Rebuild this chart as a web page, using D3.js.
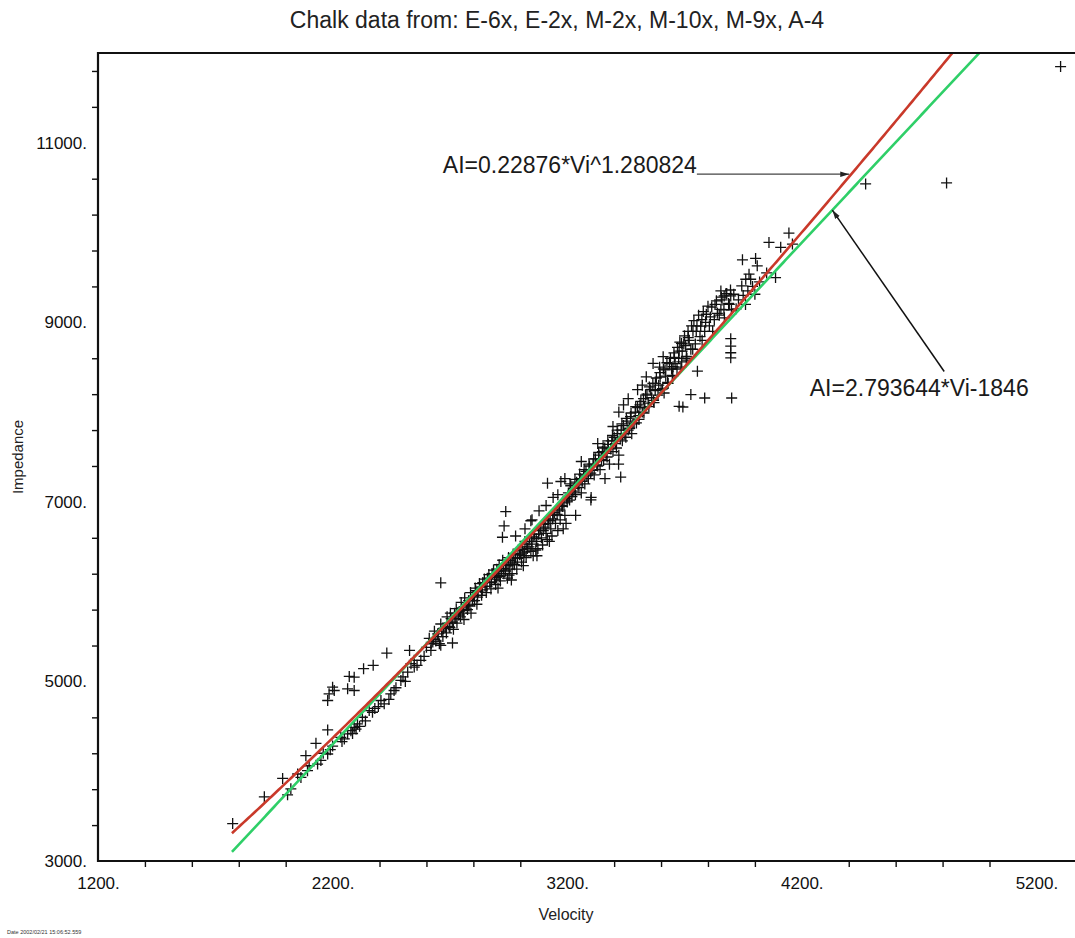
<!DOCTYPE html>
<html>
<head>
<meta charset="utf-8">
<title>Chalk data</title>
<script src="https://cdn.jsdelivr.net/npm/d3@7"></script>
<style>
  html, body { margin: 0; padding: 0; background: #fff; }
  svg { display: block; font-family: "Liberation Sans", Arial, Helvetica, sans-serif; }
</style>
</head>
<body>
<div id="chart"></div>
<script>
// Impedance vs velocity crossplot for chalk, with power and linear fits

// Axis ticks
const xMajor = [1200, 2200, 3200, 4200, 5200];
const yMajor = [3000, 5000, 7000, 9000, 11000];

// Fit coefficients (from the annotations)
const powerFit = { a: 0.22876, b: 1.280824 };
const linearFit = { slope: 2.793644, icept: -1846 };
const fitStartV = 1771;

// Samples [velocity, impedance]
const lowEnd = [
  [1774, 3417], [1909, 3715], [1987, 3920], [2008, 3737], [2022, 3804], [2051, 3969],
  [2065, 3931], [2086, 4173], [2093, 4006], [2100, 4061], [2129, 4311], [2136, 4080],
  [2150, 4120], [2160, 4200], [2179, 4192], [2179, 4460], [2190, 4240], [2200, 4280]
];

const upperOutliers = [
  [2179, 4788], [2185, 4862], [2207, 4899], [2200, 4936], [2264, 4918], [2271, 5056],
  [2292, 5048], [2292, 4899], [2332, 5142], [2373, 5179], [2431, 5316], [2528, 5346],
  [2661, 6098], [2924, 6606], [2931, 6732], [2938, 6892], [3116, 7209], [3173, 7227]
];

const rightOutliers = [
  [3301, 7022], [3428, 7276], [3693, 8057], [3727, 8195], [3786, 8157], [3901, 8157],
  [3897, 8818], [3897, 8735], [3897, 8661], [3897, 8605], [3755, 8456], [3677, 8065]
];

const farOutliers = [[4472, 10542], [4817, 10553], [5303, 11849]];

const bandLow = [
  [2235, 4378], [2264, 4416], [2278, 4452], [2292, 4489], [2306, 4527], [2327, 4601],
  [2356, 4676], [2370, 4657], [2406, 4788], [2420, 4751], [2448, 4862], [2462, 4899],
  [2491, 5011], [2520, 5104], [2534, 5198], [2548, 5160], [2576, 5235], [2240, 4330],
  [2250, 4360], [2285, 4420], [2300, 4470], [2315, 4500], [2340, 4560], [2380, 4700],
  [2395, 4720], [2440, 4800], [2470, 4930], [2500, 5050], [2510, 5000], [2548, 5235],
  [2560, 5180], [2590, 5280], [2600, 5380], [2619, 5346], [2661, 5402], [2711, 5428]
];

const bandMid = [
  [2620, 5420], [2630, 5470], [2640, 5450], [2650, 5500], [2655, 5420], [2665, 5560],
  [2670, 5500], [2680, 5600], [2685, 5540], [2690, 5650], [2700, 5600], [2705, 5700],
  [2710, 5660], [2715, 5580], [2720, 5760], [2725, 5700], [2730, 5650], [2740, 5780],
  [2745, 5720], [2750, 5820], [2755, 5760], [2760, 5690], [2770, 5850], [2775, 5800],
  [2780, 5900], [2785, 5840], [2790, 5760], [2800, 5950], [2805, 5900], [2810, 6010],
  [2815, 5860], [2820, 6000], [2830, 6050], [2835, 5960], [2840, 6100], [2850, 6060],
  [2855, 5990], [2860, 6150], [2870, 6100], [2875, 6030], [2880, 6200], [2890, 6140],
  [2895, 6080], [2900, 6250], [2905, 6180], [2910, 6300], [2915, 6120], [2920, 6240],
  [2925, 6350], [2930, 6200], [2940, 6300], [2945, 6150], [2950, 6380], [2952, 6184],
  [2955, 6250], [2960, 6330], [2965, 6200], [2970, 6420], [2975, 6300], [2980, 6380],
  [2985, 6250], [2990, 6460], [3000, 6420], [3005, 6330], [3010, 6500], [3015, 6400],
  [3020, 6560], [3025, 6380], [3030, 6480], [3040, 6600], [3045, 6450], [3050, 6530],
  [3055, 6400], [3060, 6640], [3066, 6464], [3070, 6560], [3075, 6480], [3080, 6680],
  [3090, 6600], [3095, 6520], [3100, 6750], [3110, 6650], [3115, 6580], [3120, 6800],
  [3130, 6700], [3135, 6620], [3140, 6850], [3150, 6760], [3160, 6680], [3165, 6900],
  [3170, 6800], [3180, 6950], [3190, 6850], [3195, 6760], [3200, 7000]
];

const bandMidExtra = [
  [2612, 5480], [2627, 5440], [2634, 5560], [2648, 5530], [2661, 5640], [2673, 5590],
  [2688, 5720], [2697, 5610], [2702, 5760], [2718, 5700], [2727, 5810], [2736, 5740],
  [2748, 5880], [2758, 5790], [2763, 5930], [2779, 5850], [2788, 5990], [2796, 5900],
  [2808, 6040], [2818, 5940], [2826, 6090], [2838, 6020], [2847, 6140], [2858, 6060],
  [2866, 6190], [2877, 6110], [2886, 6240], [2898, 6160], [2906, 6230], [2913, 6170],
  [2928, 6260], [2937, 6230], [2948, 6290], [2958, 6350], [2968, 6310], [2978, 6420],
  [2988, 6370], [2997, 6410], [3008, 6470], [3018, 6440], [3028, 6530], [3037, 6500],
  [3048, 6560], [3058, 6610], [3068, 6590], [3078, 6640], [3087, 6700], [3098, 6680],
  [3106, 6720], [3118, 6760], [3127, 6790], [3138, 6810], [3146, 6880], [3157, 6860],
  [3168, 6920], [3177, 6960], [3186, 6990], [3198, 7040], [3020, 6700], [3050, 6800],
  [3080, 6900], [3140, 7050], [3160, 7080]
];

const bandEdges = [
  [2905, 6040], [2962, 6130], [3013, 6290], [3071, 6400], [3124, 6560], [3183, 6700],
  [3236, 6850], [3302, 7050], [3361, 7260], [3419, 7420], [2980, 6620], [3045, 6790],
  [3110, 6960], [3190, 7260], [3260, 7450], [3330, 7650], [3395, 7840]
];

const bandHigh = [
  [3205, 7100], [3210, 7020], [3215, 7180], [3220, 7060], [3230, 7150], [3235, 7080],
  [3240, 7220], [3250, 7160], [3255, 7260], [3260, 7100], [3270, 7300], [3275, 7200],
  [3280, 7340], [3290, 7260], [3295, 7400], [3300, 7320], [3310, 7420], [3315, 7300],
  [3320, 7480], [3330, 7400], [3335, 7520], [3340, 7360], [3350, 7560], [3355, 7460],
  [3360, 7600], [3370, 7500], [3375, 7640], [3380, 7420], [3390, 7680], [3395, 7560],
  [3400, 7720], [3410, 7600], [3415, 7760], [3420, 7520], [3430, 7800], [3435, 7680],
  [3440, 7850], [3450, 7720], [3455, 7900], [3460, 7800], [3470, 7950], [3475, 7760],
  [3480, 7880], [3490, 8000], [3495, 7880], [3500, 8050], [3505, 7960], [3510, 8080],
  [3520, 8000], [3525, 8150], [3530, 8050], [3540, 8200], [3545, 8100], [3550, 8280],
  [3560, 8160], [3565, 8320], [3570, 8106], [3575, 8240], [3580, 8380], [3590, 8300],
  [3595, 8440], [3600, 8250], [3610, 8480], [3613, 8213], [3620, 8400], [3625, 8550],
  [3630, 8320], [3640, 8600], [3645, 8480], [3650, 8400], [3655, 8660], [3660, 8540],
  [3670, 8720], [3675, 8600], [3680, 8780], [3685, 8500], [3690, 8680], [3700, 8850],
  [3705, 8740], [3710, 8600], [3715, 8900], [3720, 8800], [3730, 8960], [3735, 8700],
  [3740, 9020], [3750, 8900], [3760, 9080], [3769, 8958], [3775, 8800], [3780, 9120],
  [3790, 9000], [3800, 9180], [3810, 9060], [3820, 8900], [3830, 9200], [3840, 9100],
  [3855, 9145], [3860, 9250], [3870, 9050], [3880, 9320], [3890, 9200], [3900, 9140]
];

const bandHighExtra = [
  [3204, 7060], [3212, 7200], [3224, 7120], [3233, 7250], [3246, 7190], [3253, 7310],
  [3264, 7230], [3272, 7360], [3284, 7290], [3293, 7420], [3306, 7350], [3313, 7480],
  [3326, 7410], [3334, 7550], [3346, 7470], [3353, 7610], [3366, 7540], [3373, 7680],
  [3386, 7590], [3393, 7740], [3406, 7650], [3413, 7800], [3426, 7700], [3433, 7870],
  [3446, 7760], [3452, 7930], [3466, 7820], [3472, 7990], [3485, 7870], [3492, 8060],
  [3506, 7920], [3514, 8120], [3527, 7990], [3534, 8190], [3548, 8060], [3556, 8250],
  [3568, 8130], [3576, 8320], [3587, 8190], [3596, 8390], [3606, 8260], [3617, 8470],
  [3628, 8330], [3636, 8540], [3648, 8410], [3657, 8610], [3668, 8480], [3677, 8680],
  [3688, 8560], [3697, 8760], [3708, 8620], [3716, 8830], [3727, 8700], [3736, 8900],
  [3746, 8760], [3753, 8960], [3766, 8840], [3774, 9030], [3786, 8900], [3793, 9090],
  [3806, 8960], [3816, 9170], [3827, 9030], [3836, 9240], [3848, 9080], [3857, 9280],
  [3868, 9140], [3877, 9320], [3888, 9210], [3896, 9360], [3537, 8393], [3566, 8542],
  [3609, 8617], [3687, 8766], [3651, 8505], [3708, 8580], [3594, 8500], [3520, 8300],
  [3500, 8250], [3460, 8150], [3420, 8000], [3440, 8080]
];

const topCluster = [
  [3910, 9313], [3920, 9150], [3930, 9250], [3944, 9406], [3947, 9696], [3950, 9300],
  [3960, 9200], [3961, 9480], [3970, 9350], [3975, 9536], [3982, 9480], [3990, 9400],
  [4000, 9313], [4003, 9712], [4010, 9629], [4020, 9450], [4050, 9550], [4060, 9890],
  [4088, 9499], [4110, 9835], [4145, 9994], [4160, 9872], [3855, 9350], [3869, 9294],
  [3890, 9200], [3897, 9294]
];

const samples = [].concat(lowEnd, upperOutliers, rightOutliers, farOutliers,
  bandLow, bandMid, bandMidExtra, bandEdges, bandHigh, bandHighExtra, topCluster);

// Annotations: text anchor and arrow in data units
const powerNote = { text: 'AI=0.22876*Vi^1.280824', v: 2670, ai: 10660, arrowAi: 10650 };
const linearNote = { text: 'AI=2.793644*Vi-1846', v: 4234, ai: 8179, fromV: 4807, fromAi: 8452, tipV: 4330 };

const W = 1075, H = 938;
const svg = d3.select('#chart').append('svg')
  .attr('width', W)
  .attr('height', H);

const x = d3.scaleLinear().domain([1200, 5390]).range([98, 1081]);
const y = d3.scaleLinear().domain([3000, 12000]).range([861, 53]);
const [x0, x1] = x.range();
const [y0, y1] = y.range();

const defs = svg.append('defs');
defs.append('clipPath').attr('id', 'clip')
  .append('rect')
  .attr('x', x0).attr('y', y1)
  .attr('width', x1 - x0).attr('height', y0 - y1);

defs.append('marker')
  .attr('id', 'head')
  .attr('viewBox', '0 0 10 6')
  .attr('refX', 10).attr('refY', 3)
  .attr('markerWidth', 9).attr('markerHeight', 6)
  .attr('markerUnits', 'userSpaceOnUse')
  .attr('orient', 'auto')
  .append('path')
  .attr('d', 'M0,0L10,3L0,6Z')
  .attr('fill', '#222');

// Title
svg.append('text')
  .attr('x', 557).attr('y', 28)
  .attr('text-anchor', 'middle')
  .attr('font-size', 23)
  .attr('fill', '#222')
  .text('Chalk data from: E-6x, E-2x, M-2x, M-10x, M-9x, A-4');

// Minor ticks (none at labelled positions)
const xMinor = d3.range(1400, 5390, 200).filter(v => !xMajor.includes(v));
const yMinor = d3.range(3400, 12000, 400).filter(v => !yMajor.includes(v));

const xTickG = svg.append('g')
  .attr('transform', `translate(0,${y0})`)
  .call(d3.axisBottom(x).tickValues(xMinor).tickSize(6).tickFormat(''));
xTickG.select('.domain').remove();
xTickG.selectAll('line').attr('stroke', '#111').attr('stroke-width', 1.4);

const yTickG = svg.append('g')
  .attr('transform', `translate(${x0},0)`)
  .call(d3.axisLeft(y).tickValues(yMinor).tickSize(6).tickFormat(''));
yTickG.select('.domain').remove();
yTickG.selectAll('line').attr('stroke', '#111').attr('stroke-width', 1.4);

// Tick labels
const xLab = svg.append('g')
  .attr('transform', `translate(0,${y0})`)
  .call(d3.axisBottom(x).tickValues(xMajor).tickSize(0).tickPadding(16).tickFormat(d => d + '.'));
xLab.select('.domain').remove();
xLab.selectAll('text')
  .attr('font-family', '"Liberation Sans", Arial, sans-serif')
  .attr('font-size', 17).attr('fill', '#111');

const yLab = svg.append('g')
  .attr('transform', `translate(${x0},0)`)
  .call(d3.axisLeft(y).tickValues(yMajor).tickSize(0).tickPadding(11).tickFormat(d => d + '.'));
yLab.select('.domain').remove();
yLab.selectAll('text')
  .attr('font-family', '"Liberation Sans", Arial, sans-serif')
  .attr('font-size', 17).attr('fill', '#111');

// Axis titles
svg.append('text')
  .attr('x', 566).attr('y', 920)
  .attr('text-anchor', 'middle')
  .attr('font-size', 16)
  .attr('fill', '#222')
  .text('Velocity');

svg.append('text')
  .attr('transform', `translate(23,${(y0 + y1) / 2}) rotate(-90)`)
  .attr('text-anchor', 'middle')
  .attr('font-size', 15)
  .attr('fill', '#222')
  .text('Impedance');

// Date stamp
svg.append('text')
  .attr('x', 7).attr('y', 934)
  .attr('font-size', 5.5)
  .attr('fill', '#333')
  .text('Date 2002/02/21 15:06:52.559');

// Scatter points
const plot = svg.append('g').attr('clip-path', 'url(#clip)');
plot.selectAll('.pt')
  .data(samples)
  .enter()
  .append('path')
  .attr('class', 'pt')
  .attr('transform', d => `translate(${x(d[0])},${y(d[1])})`)
  .attr('d', 'M-5.5,0H5.5M0,-5.5V5.5')
  .attr('stroke', '#111')
  .attr('stroke-width', 1.3)
  .attr('fill', 'none');

// Fit lines
const powerAt = v => powerFit.a * Math.pow(v, powerFit.b);
const linearAt = v => linearFit.slope * v + linearFit.icept;
const fitV = d3.range(fitStartV, 5100, 10);

const line = d3.line().x(d => x(d[0])).y(d => y(d[1]));

plot.append('path')
  .datum(fitV.map(v => [v, linearAt(v)]))
  .attr('fill', 'none')
  .attr('stroke', '#2fcf68')
  .attr('stroke-width', 2.6)
  .attr('d', line);

plot.append('path')
  .datum(fitV.map(v => [v, powerAt(v)]))
  .attr('fill', 'none')
  .attr('stroke', '#c9392a')
  .attr('stroke-width', 2.6)
  .attr('d', line);

// Frame (right edge runs off the picture)
svg.append('path')
  .attr('d', `M${x1},${y1}H${x0}V${y0}H${x1}`)
  .attr('fill', 'none')
  .attr('stroke', '#111')
  .attr('stroke-width', 2.2);

// Annotations
const pText = svg.append('text')
  .attr('x', x(powerNote.v)).attr('y', y(powerNote.ai))
  .attr('font-size', 23)
  .attr('fill', '#1a1a1a')
  .text(powerNote.text);
const pEnd = x(powerNote.v) + pText.node().getComputedTextLength();
const tipV = Math.pow(powerNote.arrowAi / powerFit.a, 1 / powerFit.b);
svg.append('line')
  .attr('x1', pEnd).attr('y1', y(powerNote.arrowAi))
  .attr('x2', x(tipV) - 2).attr('y2', y(powerNote.arrowAi))
  .attr('stroke', '#444')
  .attr('stroke-width', 1.2)
  .attr('marker-end', 'url(#head)');

svg.append('text')
  .attr('x', x(linearNote.v)).attr('y', y(linearNote.ai))
  .attr('font-size', 23)
  .attr('fill', '#1a1a1a')
  .text(linearNote.text);
svg.append('line')
  .attr('x1', x(linearNote.fromV)).attr('y1', y(linearNote.fromAi))
  .attr('x2', x(linearNote.tipV)).attr('y2', y(linearAt(linearNote.tipV)))
  .attr('stroke', '#111')
  .attr('stroke-width', 1.5)
  .attr('marker-end', 'url(#head)');
</script>
</body>
</html>
